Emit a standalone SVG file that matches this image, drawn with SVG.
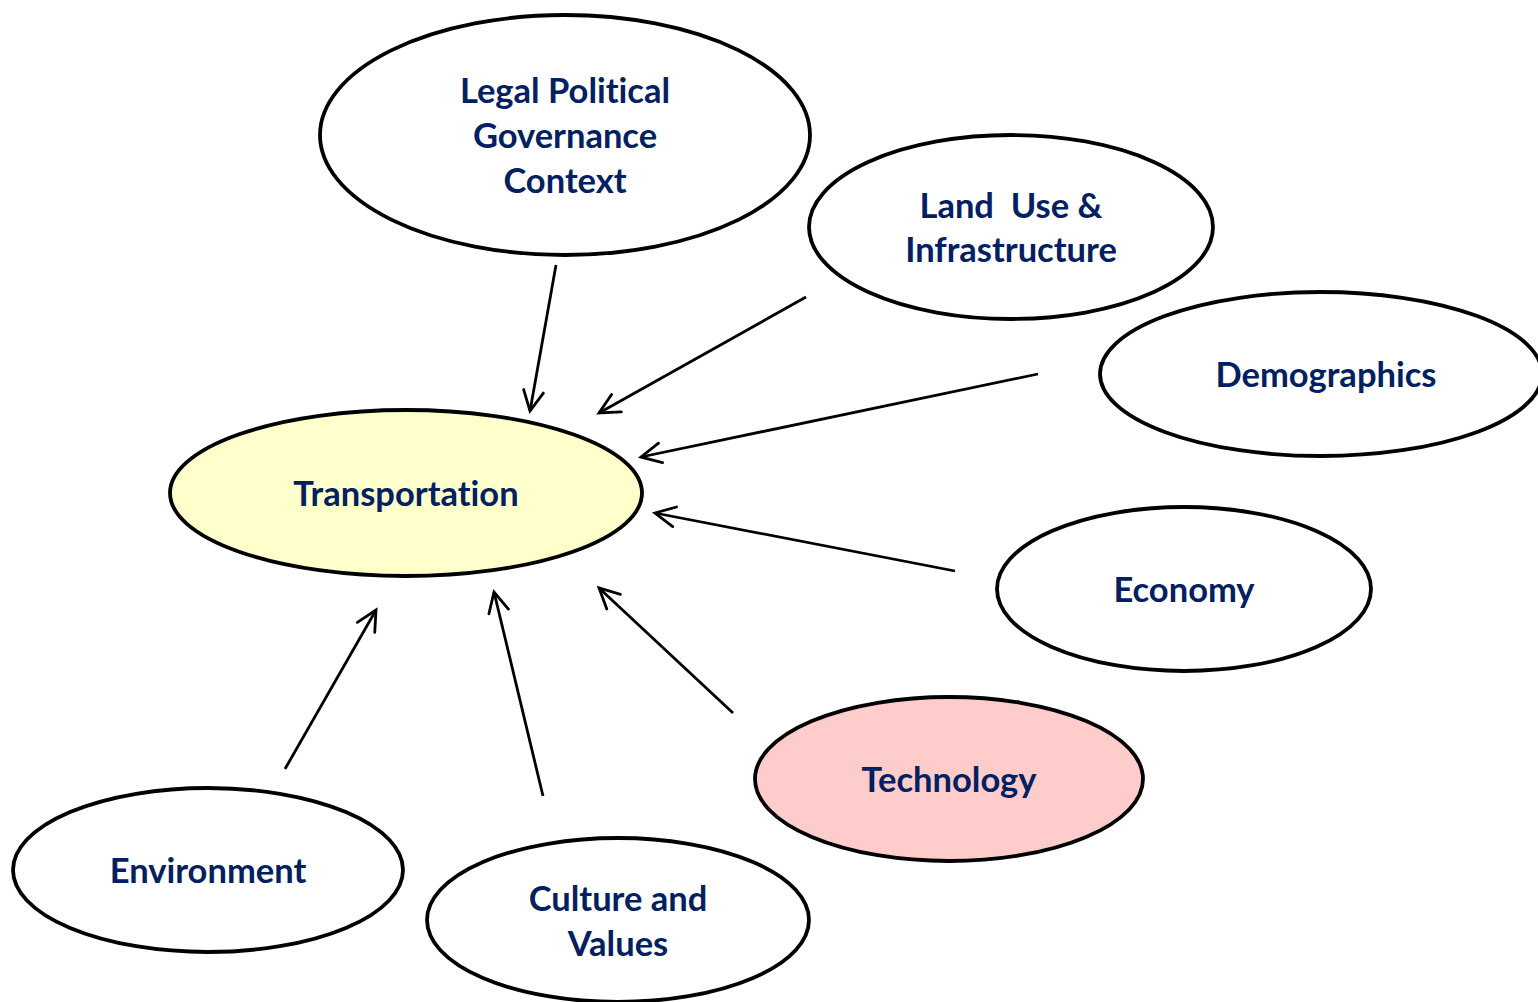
<svg xmlns="http://www.w3.org/2000/svg" width="1538" height="1002" viewBox="0 0 1538 1002">
  <style>
    .node { fill: #ffffff; stroke: #000000; stroke-width: 3.8; }
    .hub { fill: #ffffcc; }
    .tech { fill: #ffcccc; }
    .label { font-family: Lato, "Liberation Sans", sans-serif; font-weight: bold; font-size: 34.5px; fill: #002060; text-anchor: middle; font-variant-ligatures: none; }
    .edge { stroke: #000000; stroke-width: 2.8; fill: none; marker-end: url(#arrow); }
  </style>
  <defs>
    <marker id="arrow" markerUnits="userSpaceOnUse" markerWidth="30" markerHeight="30" viewBox="-24 -15 30 30" refX="0" refY="0" orient="auto">
      <path d="M -20 -10 L 0 0 L -20 10" fill="none" stroke="#000000" stroke-width="2.8" stroke-linecap="round" stroke-linejoin="miter"/>
    </marker>
  </defs>
  <rect width="1538" height="1002" fill="#ffffff"/>

  <g id="connectors">
    <line class="edge" x1="556" y1="265" x2="530" y2="411"/>
    <line class="edge" x1="806" y1="297" x2="599" y2="413"/>
    <line class="edge" x1="1038" y1="374" x2="641" y2="457"/>
    <line class="edge" x1="955" y1="571" x2="655" y2="513"/>
    <line class="edge" x1="733" y1="713" x2="599" y2="588"/>
    <line class="edge" x1="543" y1="796" x2="494" y2="592"/>
    <line class="edge" x1="285" y1="769" x2="376" y2="610"/>
  </g>

  <g id="legal">
    <ellipse class="node" cx="565" cy="135" rx="245" ry="120"/>
    <text class="label" x="565" y="103">Legal Political</text>
    <text class="label" x="565" y="148">Governance</text>
    <text class="label" x="565" y="193">Context</text>
  </g>
  <g id="landuse">
    <ellipse class="node" cx="1011" cy="227" rx="202" ry="92"/>
    <text class="label" x="1011" y="218" xml:space="preserve">Land  Use &amp;</text>
    <text class="label" x="1011" y="262">Infrastructure</text>
  </g>
  <g id="demographics">
    <ellipse class="node" cx="1321" cy="374" rx="221" ry="82"/>
    <text class="label" x="1326" y="387">Demographics</text>
  </g>
  <g id="transportation">
    <ellipse class="node hub" cx="406" cy="493" rx="236" ry="83"/>
    <text class="label" x="406" y="506">Transportation</text>
  </g>
  <g id="economy">
    <ellipse class="node" cx="1184" cy="589" rx="187" ry="82"/>
    <text class="label" x="1184" y="602">Economy</text>
  </g>
  <g id="technology">
    <ellipse class="node tech" cx="949" cy="779" rx="194" ry="82"/>
    <text class="label" x="949" y="792">Technology</text>
  </g>
  <g id="environment">
    <ellipse class="node" cx="208" cy="870" rx="195" ry="82"/>
    <text class="label" x="208" y="883">Environment</text>
  </g>
  <g id="culture">
    <ellipse class="node" cx="618" cy="920" rx="191" ry="82"/>
    <text class="label" x="618" y="911">Culture and</text>
    <text class="label" x="618" y="956">Values</text>
  </g>
</svg>
